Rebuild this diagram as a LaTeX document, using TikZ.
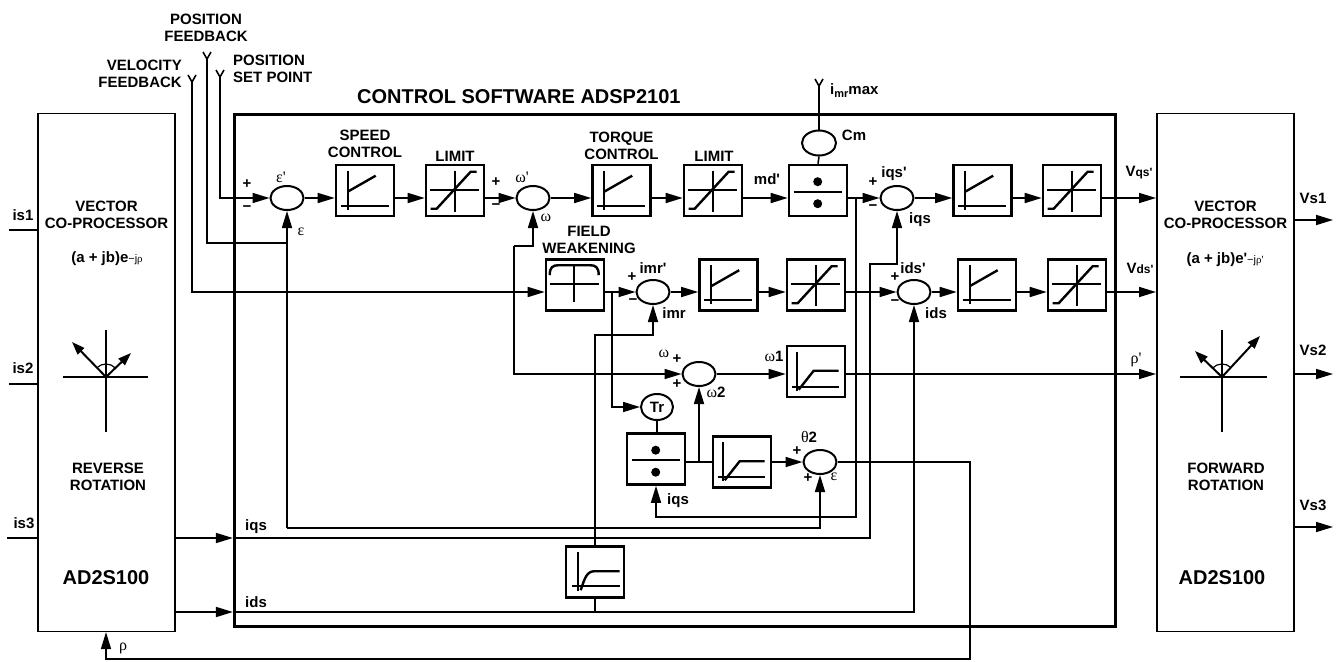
\documentclass[tikz,border=0pt]{standalone}
\usepackage{fontspec}
\setmainfont{Liberation Sans}[Ligatures=TeXOff]
\newfontfamily\grk{Liberation Serif}[Ligatures=TeXOff]
\usetikzlibrary{arrows.meta,shapes.geometric}
\newcommand\gr[1]{{\grk\mdseries\fontsize{16}{17}\selectfont #1}}
\newcommand\symPI[1]{\begin{scope}[shift={(#1.north west)},line width=2.4pt]
\draw (13,7) -- (13,46); \draw (6,42) -- (54,42); \draw (13,28) -- (41,12);\end{scope}}
\newcommand\symLIM[1]{\begin{scope}[shift={(#1.north west)},line width=2.4pt]
\draw (5,26) -- (54,26); \draw (30,7) -- (30,48); \draw (6,45) -- (12,45) -- (46,8) -- (52,8);\end{scope}}
\newcommand\symDIV[1]{\begin{scope}[shift={(#1.north west)},line width=2.4pt]
\draw (6,28) -- (54,28); \fill (30,18) circle (4.5); \fill (30,40) circle (4.5);\end{scope}}
\newcommand\symFW[1]{\begin{scope}[shift={(#1.north west)},line width=2.4pt]
\draw (29,7) -- (29,44); \draw (5,26) -- (54,26);
\draw (5,17) .. controls (5,9) and (8,7) .. (14,7) -- (45,7) .. controls (51,7) and (54,9) .. (54,17);\end{scope}}
\newcommand\symLPF[1]{\begin{scope}[shift={(#1.north west)},line width=2.4pt]
\draw (11,7) -- (11,46); \draw (6,42) -- (53,42); \draw (13,45) -- (28,26) -- (53,26);\end{scope}}
\newcommand\symLPFs[1]{\begin{scope}[shift={(#1.north west)},line width=2.4pt]
\draw (13,7) -- (13,46); \draw (7,41) -- (55,41);
\draw (16,45) .. controls (20,33) and (22,26) .. (30,26) -- (55,26);\end{scope}}
\begin{document}
\begin{tikzpicture}[x=1pt,y=-1pt,
  conn/.style={line width=1.6pt},
  arr/.style={conn,-{Triangle[length=17pt,width=10pt]}},
  blk/.style={draw,line width=2.6pt,minimum width=58pt,minimum height=51pt,inner sep=0pt},
  sumn/.style={draw,ellipse,line width=2pt,minimum width=33pt,minimum height=24pt,inner sep=0pt},
  side/.style={draw,line width=1.6pt,inner sep=0pt},
  tx/.style={font=\fontsize{15}{17}\selectfont\bfseries,inner sep=0pt,align=center},
  big/.style={font=\fontsize{20}{24}\selectfont\bfseries,inner sep=0pt},
  rot/.style={line width=2pt},
  rarr/.style={line width=2pt,-{Triangle[length=13pt,width=9pt]}}]
\path[fill=white,use as bounding box] (0,0) rectangle (1338,661);

% rows
\coordinate (r1) at (0,198);
\coordinate (r2) at (0,292);
\coordinate (r3) at (0,374);
\coordinate (r4) at (0,462);
\coordinate (yiq) at (0,538);
\coordinate (yid) at (0,612);
\coordinate (y517) at (0,517);
\coordinate (y335) at (0,335);

% big boxes
\node[draw,line width=3.2pt,minimum width=881pt,minimum height=512pt,inner sep=0pt] (ctl) at (675,370.5) {};
\node[side,minimum width=137.4pt,minimum height=518pt] (lb) at (106.5,372.3) {};
\node[side,minimum width=137.4pt,minimum height=518pt] (rb) at (1225.5,372.5) {};
\node[big,anchor=west] (title) at (357,97) {CONTROL SOFTWARE ADSP2101};

% blocks
\node[blk] (sc) at (365,190.5) {};
\node[blk] (lim1) at (455,190.5) {};
\node[blk] (tc) at (621.5,190.5) {};
\node[blk] (lim2) at (713,190.5) {};
\node[blk] (div1) at (818,190.5) {};
\node[blk] (pi4) at (982.5,190.5) {};
\node[blk] (lim4) at (1072,190.5) {};
\node[blk] (fw) at (575,285) {};
\node[blk] (pi3) at (728.5,285) {};
\node[blk] (lim3) at (816,285) {};
\node[blk] (pi5) at (987,285) {};
\node[blk] (lim5) at (1077,285) {};
\node[blk] (lpf1) at (816,371.5) {};
\node[blk] (div2) at (656,459) {};
\node[blk] (lpf2) at (742,462) {};
\node[blk] (lpf3) at (595,572) {};
\symPI{sc}\symLIM{lim1}\symPI{tc}\symLIM{lim2}\symDIV{div1}\symPI{pi4}\symLIM{lim4}
\symFW{fw}\symPI{pi3}\symLIM{lim3}\symPI{pi5}\symLIM{lim5}
\symLPF{lpf1}\symDIV{div2}\symLPF{lpf2}\symLPFs{lpf3}

% summers
\node[sumn] (s1) at (287,198) {};
\node[sumn] (s2) at (533,198) {};
\node[sumn] (siq) at (897,198) {};
\node[sumn] (simr) at (653,292) {};
\node[sumn] (sid) at (914,292) {};
\node[sumn] (sw2) at (699,374) {};
\node[sumn] (sth) at (820,462) {};
\node[sumn,minimum width=34pt,minimum height=25pt] (cm) at (819,143) {};
\node[sumn,minimum width=32pt,minimum height=26pt,tx] (tr) at (657,407) {Tr};

% input forks
\coordinate (pfb) at (207,59);
\coordinate (psp) at (220,77);
\coordinate (vfb) at (192,82);
\coordinate (imx) at (819,86);
\foreach \c in {pfb,psp,vfb,imx}{\draw[conn] (\c) ++(-4,-7) -- (\c) -- ++(4,-7);}

% connectors
\coordinate (e1) at (287,243);
\coordinate (e2) at (287,528);
\draw[conn] (pfb) |- (e1);
\draw[arr] (e2) -- (s1.south);
\draw[arr] (e2) -| (sth.south);
\draw[arr] (psp) |- (s1.west);
\draw[arr] (vfb) |- (fw.west |- r2);
\draw[arr] (s1.east) -- (sc.west |- r1);
\draw[arr] (sc.east |- r1) -- (lim1.west |- r1);
\draw[arr] (lim1.east |- r1) -- (s2.west);
\draw[arr] (s2.east) -- (tc.west |- r1);
\draw[arr] (tc.east |- r1) -- (lim2.west |- r1);
\draw[arr] (lim2.east |- r1) -- (div1.west |- r1);
\draw[arr] (div1.east |- r1) -- (siq.west);
\draw[arr] (siq.east) -- (pi4.west |- r1);
\draw[arr] (pi4.east |- r1) -- (lim4.west |- r1);
\draw[arr] (lim4.east |- r1) -- (rb.west |- r1);
\draw[conn] (imx) -- (cm.north);
\draw[conn] (cm.south) -- (div1.north);
\coordinate (w0) at (514,246);
\draw[arr] (w0) -| (s2.south);
\draw[arr] (w0) |- (sw2.west);
\draw[arr] (fw.east |- r2) -- (simr.west);
\draw[arr] (simr.east) -- (pi3.west |- r2);
\draw[arr] (pi3.east |- r2) -- (lim3.west |- r2);
\draw[arr] (lim3.east |- r2) -- (sid.west);
\draw[arr] (sid.east) -- (pi5.west |- r2);
\draw[arr] (pi5.east |- r2) -- (lim5.west |- r2);
\draw[arr] (lim5.east |- r2) -- (rb.west |- r2);
\coordinate (j1) at (612,292);
\draw[arr] (j1) |- (tr.west);
\draw[conn] (tr.south) -- (tr.south |- div2.north);
\draw[arr] (sw2.east) -- (lpf1.west |- r3);
\draw[arr] (lpf1.east |- r3) -- (rb.west |- r3);
\draw[conn] (div2.east |- r4) -- (lpf2.west |- r4);
\draw[arr] (sw2.south |- r4) -- (sw2.south);
\draw[arr] (lpf2.east |- r4) -- (sth.west);
\coordinate (rh1) at (970,659);
\coordinate (rh2) at (106,659);
\draw[arr] (sth.east) -| (rh1) -- (rh2) -- (rh2 |- lb.south);
\coordinate (j2) at (856,198);
\draw[arr] (j2) |- (div2.south |- y517) -- (div2.south);
\draw[arr] (lb.east |- yiq) -- (ctl.west |- yiq);
\coordinate (k1) at (870,264);
\draw[arr] (ctl.west |- yiq) -| (k1) -| (siq.south);
\draw[arr] (lb.east |- yid) -- (ctl.west |- yid);
\draw[arr] (ctl.west |- yid) -| (sid.south);
\draw[conn] (lpf3.south |- yid) -- (lpf3.south);
\draw[arr] (lpf3.north) |- (simr.south |- y335) -- (simr.south);

% side inputs / outputs
\coordinate (i1) at (9,230);
\coordinate (i2) at (9,384);
\coordinate (i3) at (7,538);
\foreach \c in {i1,i2,i3}{\draw[conn] (\c) -- (lb.west |- \c);}
\coordinate (o1) at (1333,220);
\coordinate (o2) at (1333,374);
\coordinate (o3) at (1333,527);
\foreach \c in {o1,o2,o3}{\draw[arr] (rb.east |- \c) -- (\c);}

% rotation symbols
\draw[rot] (106,330) -- (106,432);
\draw[rot] (63,377) -- (148,377);
\draw[rarr] (106,377) -- (72,342);
\draw[rarr] (106,377) -- (131,353);
\draw[line width=1.2pt] (106,377) ++(-44:13) arc[start angle=-44,end angle=-134,radius=13];
\draw[rot] (1222,330) -- (1222,432);
\draw[rot] (1180,377) -- (1267,377);
\draw[rarr] (1222,377) -- (1195,351);
\draw[rarr] (1222,377) -- (1260,336);
\draw[line width=1.2pt] (1222,377) ++(-47:13) arc[start angle=-47,end angle=-136,radius=13];

% box texts
\node[tx] (t1) at (106.5,215) {VECTOR\\CO-PROCESSOR};
\node[tx] (t2) at (1225.5,215) {VECTOR\\CO-PROCESSOR};
\node[tx] (t3) at (107,258.5) {(a + jb)e{\fontsize{11}{11}\selectfont\mdseries −j{\grk ρ}}};
\node[tx] (t4) at (1225,259.5) {(a + jb)e'{\fontsize{11}{11}\selectfont\mdseries −j{\grk ρ'}}};
\node[tx] (t5) at (108,477) {REVERSE\\ROTATION};
\node[tx] (t6) at (1226,477) {FORWARD\\ROTATION};
\node[big] (t7) at (106,578) {AD2S100};
\node[big] (t8) at (1222,578) {AD2S100};

% top labels
\node[tx] (l1) at (206,28) {POSITION\\FEEDBACK};
\node[tx,anchor=east,align=right] (l2) at (182,74) {VELOCITY\\FEEDBACK};
\node[tx,anchor=west,align=left] (l3) at (233,69) {POSITION\\SET POINT};
\node[tx] (l4) at (365,143.5) {SPEED\\CONTROL};
\node[tx] (l5) at (455,156) {LIMIT};
\node[tx] (l6) at (621.5,146) {TORQUE\\CONTROL};
\node[tx] (l7) at (714,156) {LIMIT};
\node[tx] (l8) at (589,240) {FIELD\\WEAKENING};
\node[tx,anchor=west] (l9) at (830,91) {i\raisebox{-3pt}{\fontsize{11}{11}\selectfont mr}max};
\node[tx] (l10) at (854,135) {Cm};

% signal labels
\node[tx] (p1) at (247,184) {+};
\node[tx] (m1) at (247,209) {−};
\node[tx] (g1) at (281,177) {\gr{ε'}};
\node[tx] (g2) at (301,232) {\gr{ε}};
\node[tx] (p2) at (496,182) {+};
\node[tx] (m2) at (496,207) {−};
\node[tx] (g3) at (522,177) {\gr{ω'}};
\node[tx] (g4) at (546,218) {\gr{ω}};
\node[tx] (n1) at (767,179) {md'};
\node[tx] (p3) at (873,182) {+};
\node[tx] (m3) at (873,208) {−};
\node[tx] (n2) at (894,174) {iqs'};
\node[tx] (n3) at (920,220) {iqs};
\node[tx] (p4) at (632,277) {+};
\node[tx] (m4) at (633,302) {−};
\node[tx] (n4) at (653,268) {imr'};
\node[tx] (n5) at (674,313) {imr};
\node[tx] (p5) at (895,277) {+};
\node[tx] (m5) at (895,303) {−};
\node[tx] (n6) at (913,268) {ids'};
\node[tx] (n7) at (936,313) {ids};
\node[tx] (n8) at (1139,173) {V{\fontsize{12}{12}\selectfont qs'}};
\node[tx] (n9) at (1140,268) {V{\fontsize{12}{12}\selectfont ds'}};
\node[tx] (g5) at (1136,360) {\gr{ρ'}};
\node[tx] (g6) at (664,354) {\gr{ω}};
\node[tx] (p6) at (677,359) {+};
\node[tx] (p7) at (677,384) {+};
\node[tx] (g7) at (716,392) {\gr{ω}2};
\node[tx] (g8) at (774,356) {\gr{ω}1};
\node[tx] (g9) at (809,437) {\gr{θ}2};
\node[tx] (p8) at (797,451) {+};
\node[tx] (p9) at (808,478) {+};
\node[tx] (g10) at (834,477) {\gr{ε}};
\node[tx] (n10) at (678,501) {iqs};
\node[tx] (n11) at (256,527) {iqs};
\node[tx] (n12) at (256,602) {ids};
\node[tx] (g11) at (123,648) {\gr{ρ}};
\node[tx] (n13) at (23,215) {is1};
\node[tx] (n14) at (23,368) {is2};
\node[tx] (n15) at (24,523) {is3};
\node[tx] (n16) at (1313,198) {Vs1};
\node[tx] (n17) at (1313,350) {Vs2};
\node[tx] (n18) at (1313,505) {Vs3};
\end{tikzpicture}
\end{document}
